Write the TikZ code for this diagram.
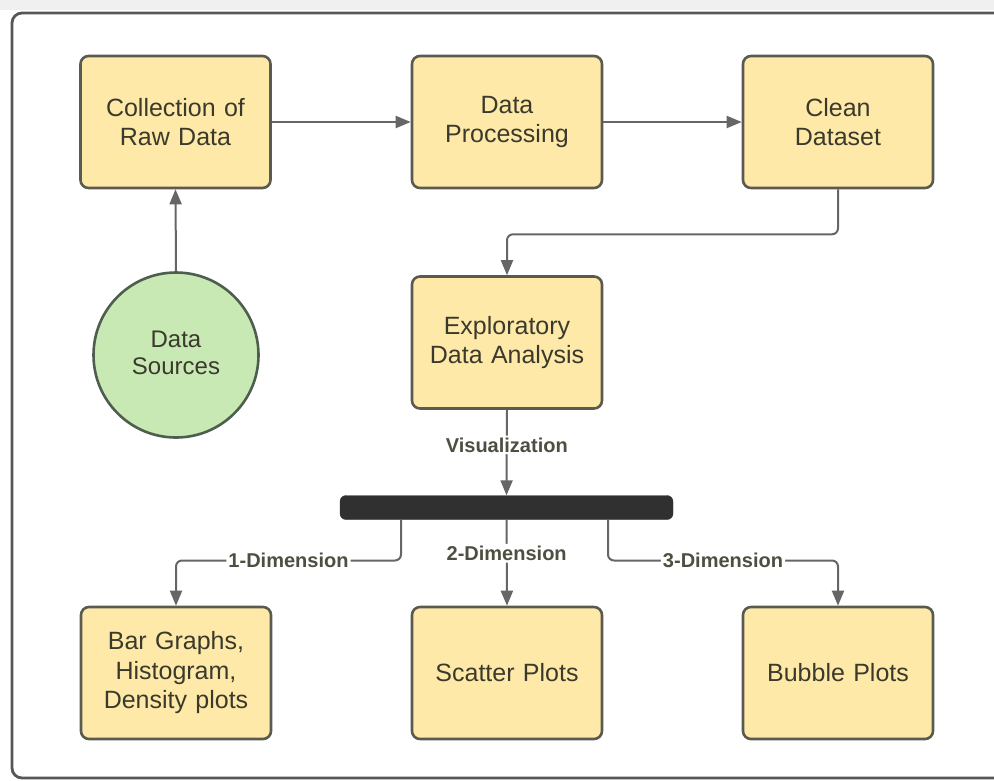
\documentclass[tikz,border=0pt]{standalone}
\usepackage{fontspec}
\setmainfont{Liberation Sans}
\usetikzlibrary{arrows.meta,calc}
\definecolor{boxfill}{HTML}{FFE9A8}
\definecolor{boxline}{HTML}{5A5A50}
\definecolor{circfill}{HTML}{C8E8B4}
\definecolor{circline}{HTML}{4E5E4E}
\definecolor{txt}{HTML}{3A3A2C}
\definecolor{conncol}{HTML}{666666}
\definecolor{barcol}{HTML}{303030}
\tikzset{
  box/.style={draw=boxline, line width=2.6pt, fill=boxfill, rounded corners=8pt,
    minimum width=190pt, minimum height=132pt, text width=180pt, align=center,
    font=\fontsize{25}{29.5}\selectfont, text=txt, inner sep=0pt},
  src/.style={circle, draw=circline, line width=2.6pt, fill=circfill,
    minimum size=165pt, align=center, font=\fontsize{24}{27}\selectfont, text=txt, inner sep=0pt},
  conn/.style={draw=conncol, line width=2pt, -{Triangle[length=15pt,width=12pt]}, rounded corners=6pt},
  lbl/.style={font=\bfseries\fontsize{20}{22}\selectfont, text=txt!90, fill=white, inner sep=2pt},
  frame/.style={draw=conncol!85!black, line width=2.8pt, rounded corners=10pt}
}
\begin{document}
\begin{tikzpicture}[x=1pt,y=-1pt]
\useasboundingbox (0,0) rectangle (994,780);
\clip (0,0) rectangle (994,780);
\fill[white] (0,0) rectangle (994,780);
\fill[gray!12] (0,0) rectangle (994,10);
\draw[frame] (12,13) rectangle (1020,778);

\node[box] (raw) at (175.5,122) {Collection of\\Raw Data\vphantom{\rule{0pt}{0pt}}\\[-24pt]};
\node[box] (proc) at (507,122) {Data\\Processing\\[-24pt]};
\node[box] (clean) at (838,122) {Clean\\Dataset\\[-24pt]};
\node[box] (eda) at (507,342.5) {Exploratory\\Data Analysis\\[-24pt]};
\node[src] (srcs) at (176,355) {Data\\Sources\\[-22pt]};
\node[draw=barcol, fill=barcol, rounded corners=6pt, minimum width=333pt, minimum height=24pt, inner sep=0pt] (bar) at (506.5,507.5) {};
\node[box] (bars) at (176,673) {Bar Graphs,\\Histogram,\\Density plots\\[-24pt]};
\node[box] (scat) at (507,673) {Scatter Plots};
\node[box] (bub) at (838,673) {Bubble Plots};

\coordinate (b1) at (401,519.5);
\coordinate (b3) at (608,519.5);

\draw[conn] (srcs.north) -- (raw.south);
\draw[conn] (raw.east) -- (proc.west);
\draw[conn] (proc.east) -- (clean.west);
\draw[conn] (clean.south) -- ++(0,45) -| (eda.north);
\draw[conn] (eda.south) -- node[lbl, pos=0.41] {Visualization} (bar.north);
\draw[conn] (b1) -- ++(0,41) -| node[lbl, pos=0.25] {1-Dimension} (bars.north);
\draw[conn] (bar.south) -- node[lbl, pos=0.39] {2-Dimension} (scat.north);
\draw[conn] (b3) -- ++(0,41) -| node[lbl, pos=0.25] {3-Dimension} (bub.north);
\end{tikzpicture}
\end{document}
